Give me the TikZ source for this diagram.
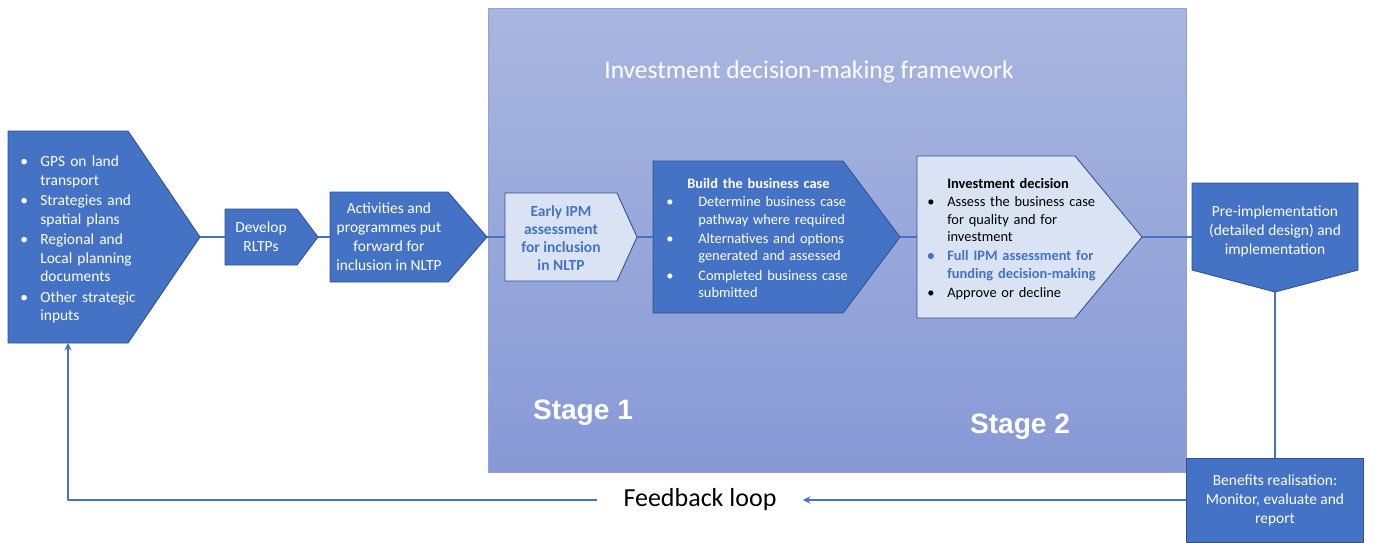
\documentclass[tikz,border=0pt]{standalone}
\usepackage{fontspec}
\setmainfont{Carlito}
\newfontfamily\stagefont{Liberation Sans}
\definecolor{boxblue}{HTML}{4472C4}
\definecolor{boxedge}{HTML}{2F528F}
\definecolor{boxlight}{HTML}{DAE3F3}
\definecolor{frametop}{HTML}{A9B6DF}
\definecolor{framebot}{HTML}{8799D6}
\definecolor{frameedge}{HTML}{8FA1D8}
\newcommand{\bitem}[2][0.36cm]{\par\noindent\makebox[#1][l]{\textbullet}\parbox[t]{\dimexpr\hsize-#1\relax}{\raggedright\strut #2\strut}}
\begin{document}
\begin{tikzpicture}[x=0.02cm,y=-0.02cm,>=stealth,line join=round,
	darkbox/.style={fill=boxblue,draw=boxedge,line width=0.5pt},
	lightbox/.style={fill=boxlight,draw=boxedge,line width=0.5pt},
	link/.style={draw=boxblue,line width=0.9pt},
	boxtext/.style={text=white,align=center,inner sep=0pt,font=\fontsize{8.8}{10.8}\selectfont},
	listtext/.style={inner sep=0pt,anchor=west,font=\fontsize{8.2}{10}\selectfont},
	stagetext/.style={text=white,font=\stagefont\bfseries\fontsize{16}{19}\selectfont}]
				\useasboundingbox (0,0) rectangle (1373,542);
				\clip (0,0) rectangle (1373,542);
				\shade[top color=frametop,bottom color=framebot,draw=frameedge] (488,8) rectangle (1186,472);
				\node[text=white,font=\fontsize{14.5}{17}\selectfont] (title) at (809,72) {Investment decision-making framework};
				\node[stagetext] (stage1) at (583,413) {Stage 1};
				\node[stagetext] (stage2) at (1020,427) {Stage 2};
				\foreach \n/\xa/\ya/\xb/\yb/\xt/\s in {inp/8/131/128/343/200/darkbox,dev/225/209/297/265/318/darkbox,act/330/192/448/282/487/darkbox,early/505/193/617/281/637/lightbox,build/653/161/843/313/900/darkbox,inv/917/156/1075/318/1142/lightbox}
				{
					\filldraw[\s] (\xa,\ya) -- (\xb,\ya) -- (\xt,237) -- (\xb,\yb) -- (\xa,\yb) -- cycle;
					\coordinate (\n-in) at (\xa,237);
					\coordinate (\n-out) at (\xt,237);
				}
				\filldraw[darkbox] (1192,183) -- (1358,183) -- (1358,270) -- (1275,292) -- (1192,270) -- cycle;
				\path
				(1192,237) coordinate (pre-in)
				(1275,292) coordinate (pre-out)
				(68,343) coordinate (inp-bot)
				;
				\node[listtext,text=white,text width=2.8cm,font=\fontsize{8.8}{10.6}\selectfont] (inp-t) at (20,237) {\raggedright
					\bitem[0.4cm]{GPS on land\\transport}
					\bitem[0.4cm]{Strategies and\\spatial plans}
					\bitem[0.4cm]{Regional and\\Local planning\\documents}
					\bitem[0.4cm]{Other strategic\\inputs}};
				\node[boxtext] (dev-t) at (261,237) {Develop\\RLTPs};
				\node[boxtext] (act-t) at (389,237) {Activities and\\programmes put\\forward for\\inclusion in NLTP};
				\node[boxtext,text=boxblue,font=\bfseries\fontsize{8.8}{10.4}\selectfont] (early-t) at (561,238) {Early IPM\\assessment\\for inclusion\\in NLTP};
				\node[listtext,text=white,text width=3.9cm] (build-t) at (666,241) {\raggedright
					\noindent\hspace*{0.42cm}\textbf{Build the business case}
					\bitem[0.64cm]{Determine business case\\pathway where required}
					\bitem[0.64cm]{Alternatives and options\\generated and assessed}
					\bitem[0.64cm]{Completed business case\\submitted}};
				\node[listtext,text=black,text width=3.4cm] (inv-t) at (927,241) {\raggedright
					\noindent\hspace*{0.4cm}\textbf{Investment decision}
					\bitem[0.4cm]{Assess the business case\\for quality and for\\investment}%
					{\color{boxblue}\bfseries\bitem[0.4cm]{Full IPM assessment for\\funding decision-making}}%
					\bitem[0.4cm]{Approve or decline}};
				\node[boxtext] (pre-t) at (1275,231) {Pre-implementation\\(detailed design) and\\implementation};
				\node[darkbox,boxtext,minimum width=3.54cm,minimum height=1.68cm] (ben) at (1275,500) {Benefits realisation:\\Monitor, evaluate and\\report};
				\node[inner xsep=0.52cm,inner ysep=0pt,font=\fontsize{14.8}{17}\selectfont] (fb) at (700,500) {Feedback loop};
				\draw[link] (inp-out) -- (dev-in)
				(dev-out) -- (act-in)
				(act-out) -- (early-in)
				(early-out) -- (build-in)
				(build-out) -- (inv-in)
				(inv-out) -- (pre-in)
				(pre-out) -- (ben.north)
				;
				\draw[link,->] (ben.west |- fb) -- (fb.east);
				\draw[link,->] (fb.west) -| (inp-bot);
			\end{tikzpicture}
\end{document}
